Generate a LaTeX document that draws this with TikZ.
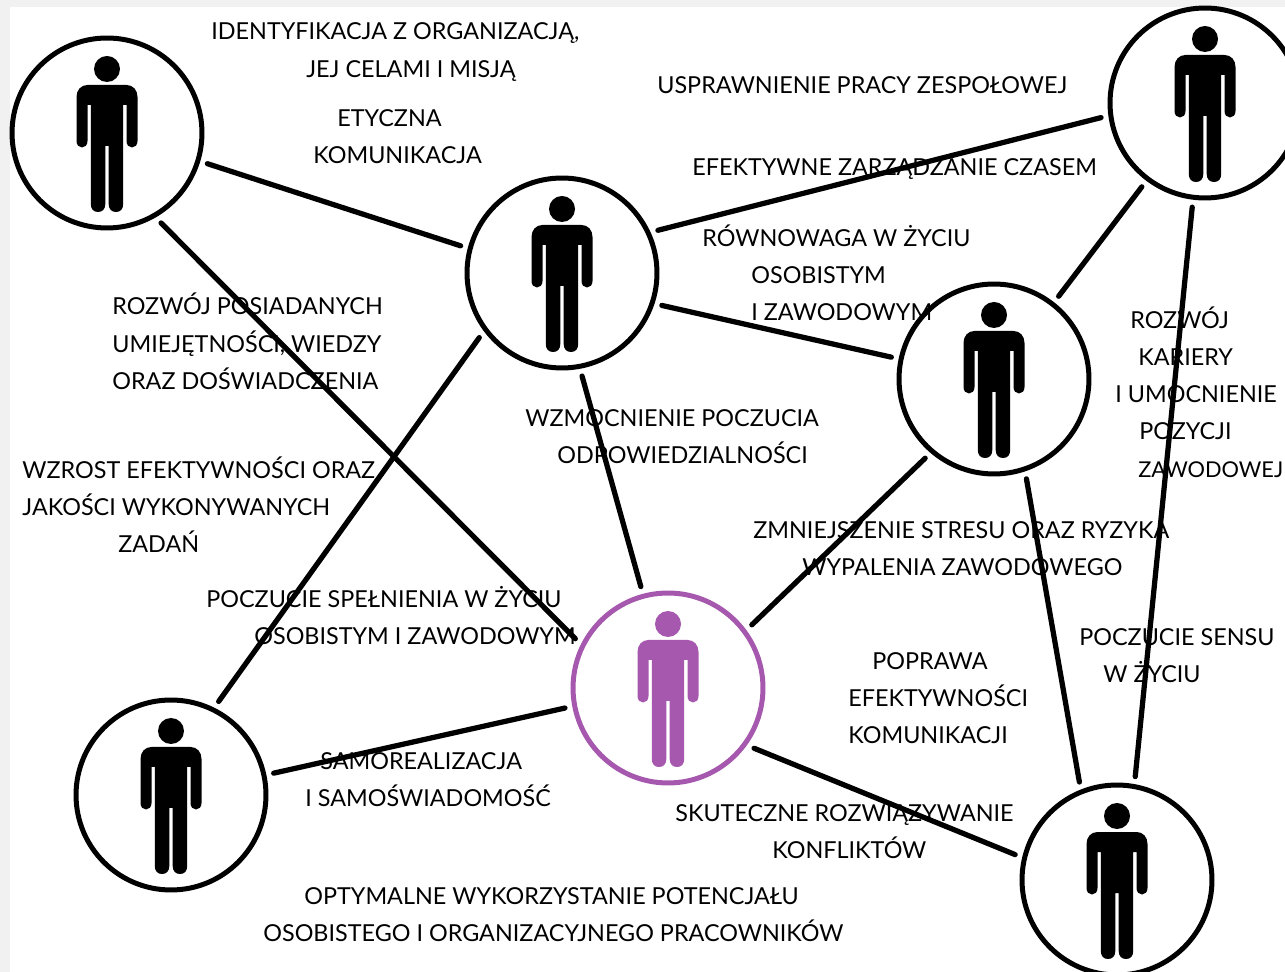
\documentclass[tikz,border=0pt]{standalone}
\usepackage{fontspec}
\setmainfont{Lato}
\definecolor{pagegray}{HTML}{F1F1F1}
\definecolor{personpurple}{HTML}{A658AE}
\tikzset{
  person/.pic={
    \fill (0,-64) circle (13);
    \fill (-19.5,-48) -- (19.5,-48) .. controls (26,-48) and (30.5,-43) .. (30.5,-36)
      -- (30.5,8) .. controls (30.5,12) and (28,14.5) .. (25,14.5) .. controls (22,14.5) and (19.5,12) .. (19.5,8)
      -- (19.5,-28) -- (16.2,-28) -- (16.2,71) .. controls (16.2,76) and (13.5,79) .. (9,79)
      .. controls (4.5,79) and (1.7,76) .. (1.7,71) -- (1.7,13) -- (-1.7,13) -- (-1.7,71)
      .. controls (-1.7,76) and (-4.5,79) .. (-9,79) .. controls (-13.5,79) and (-16.2,76) .. (-16.2,71)
      -- (-16.2,-28) -- (-19.5,-28) -- (-19.5,8) .. controls (-19.5,12) and (-22,14.5) .. (-25,14.5)
      .. controls (-28,14.5) and (-30.5,12) .. (-30.5,8) -- (-30.5,-36)
      .. controls (-30.5,-43) and (-26,-48) .. (-19.5,-48) -- cycle;
  },
  ring/.style={circle,draw,line width=0.1cm,minimum size=3.8cm,inner sep=0pt,outer sep=0.2cm},
  link/.style={line width=0.105cm,line cap=round},
  lbl/.style={anchor=base west,inner sep=0pt,yshift=-0.17cm,font=\fontsize{13.3}{16}\selectfont}
}
\begin{document}
\begin{tikzpicture}[x=0.02cm,y=-0.02cm]
  \useasboundingbox (0,0) rectangle (1285,972);
  \clip (0,0) rectangle (1285,972);
  \fill[pagegray] (0,0) rectangle (1285,972);
  \fill[white] (10,7) rectangle (1285,972);
  % people
  \node[ring] (tl) at (107,133) {};
  \node[ring] (ce) at (562,273) {};
  \node[ring] (tr) at (1205,103) {};
  \node[ring] (rm) at (994,379) {};
  \node[ring] (bl) at (171,795) {};
  \node[ring] (br) at (1117,880) {};
  \node[ring,color=personpurple] (pu) at (668,688) {};
  \pic at (tl) {person};
  \pic at (ce) {person};
  \pic at (tr) {person};
  \pic at (rm) {person};
  \pic at (bl) {person};
  \pic at (br) {person};
  \pic[color=personpurple] at (pu) {person};
  % connectors
  \begin{scope}[link]
    \draw (tl.-17.5) -- (ce.165);
    \draw (tl.-59) -- (pu.152);
    \draw (ce.24) -- (tr.188);
    \draw (ce.-18) -- (rm.168);
    \draw (ce.218) -- (bl.63);
    \draw (ce.-79) -- (pu.105);
    \draw (tr.233) -- (rm.52);
    \draw (tr.-97) -- (br.80);
    \draw (rm.229) -- (pu.37);
    \draw (rm.-72) -- (br.111);
    \draw (pu.191.5) -- (bl.12);
    \draw (pu.-35) -- (br.166);
  \end{scope}
  % texts
  \node[lbl] (ta1) at (211,31) {IDENTYFIKACJA Z ORGANIZACJĄ,};
  \node[lbl] (ta2) at (306,69) {JEJ CELAMI I MISJĄ};
  \node[lbl] (tb1) at (337,118) {ETYCZNA};
  \node[lbl] (tb2) at (313,155) {KOMUNIKACJA};
  \node[lbl] (tc1) at (657,85) {USPRAWNIENIE PRACY ZESPOŁOWEJ};
  \node[lbl] (td1) at (692,167) {EFEKTYWNE ZARZĄDZANIE CZASEM};
  \node[lbl] (te1) at (702,238) {RÓWNOWAGA W ŻYCIU};
  \node[lbl] (te2) at (751,275) {OSOBISTYM};
  \node[lbl] (te3) at (751,312) {I ZAWODOWYM};
  \node[lbl] (tf1) at (1130,320) {ROZWÓJ};
  \node[lbl] (tf2) at (1138,357) {KARIERY};
  \node[lbl] (tf3) at (1115,394) {I UMOCNIENIE};
  \node[lbl] (tf4) at (1139,431) {POZYCJI};
  \node[lbl,font=\fontsize{12.4}{16}\selectfont] (tf5) at (1138,469) {ZAWODOWEJ};
  \node[lbl] (tg1) at (112,306) {ROZWÓJ POSIADANYCH};
  \node[lbl] (tg2) at (112,344) {UMIEJĘTNOŚCI, WIEDZY};
  \node[lbl] (tg3) at (112,381) {ORAZ DOŚWIADCZENIA};
  \node[lbl] (th1) at (525,418) {WZMOCNIENIE POCZUCIA};
  \node[lbl] (th2) at (557,455) {ODPOWIEDZIALNOŚCI};
  \node[lbl] (ti1) at (22,470) {WZROST EFEKTYWNOŚCI ORAZ};
  \node[lbl] (ti2) at (22,507) {JAKOŚCI WYKONYWANYCH};
  \node[lbl] (ti3) at (118,544) {ZADAŃ};
  \node[lbl] (tj1) at (753,530) {ZMNIEJSZENIE STRESU ORAZ RYZYKA};
  \node[lbl] (tj2) at (802,567) {WYPALENIA ZAWODOWEGO};
  \node[lbl] (tk1) at (206,599) {POCZUCIE SPEŁNIENIA W ŻYCIU};
  \node[lbl] (tk2) at (254,636) {OSOBISTYM I ZAWODOWYM};
  \node[lbl] (tl1) at (1079,637) {POCZUCIE SENSU};
  \node[lbl] (tl2) at (1103,674) {W ŻYCIU};
  \node[lbl] (tm1) at (872,661) {POPRAWA};
  \node[lbl] (tm2) at (848,698) {EFEKTYWNOŚCI};
  \node[lbl] (tm3) at (848,735) {KOMUNIKACJI};
  \node[lbl] (tn1) at (320,761) {SAMOREALIZACJA};
  \node[lbl] (tn2) at (305,798) {I SAMOŚWIADOMOŚĆ};
  \node[lbl] (to1) at (675,813) {SKUTECZNE ROZWIĄZYWANIE};
  \node[lbl] (to2) at (772,850) {KONFLIKTÓW};
  \node[lbl] (tp1) at (304,896) {OPTYMALNE WYKORZYSTANIE POTENCJAŁU};
  \node[lbl] (tp2) at (263,933) {OSOBISTEGO I ORGANIZACYJNEGO PRACOWNIKÓW};
\end{tikzpicture}
\end{document}
